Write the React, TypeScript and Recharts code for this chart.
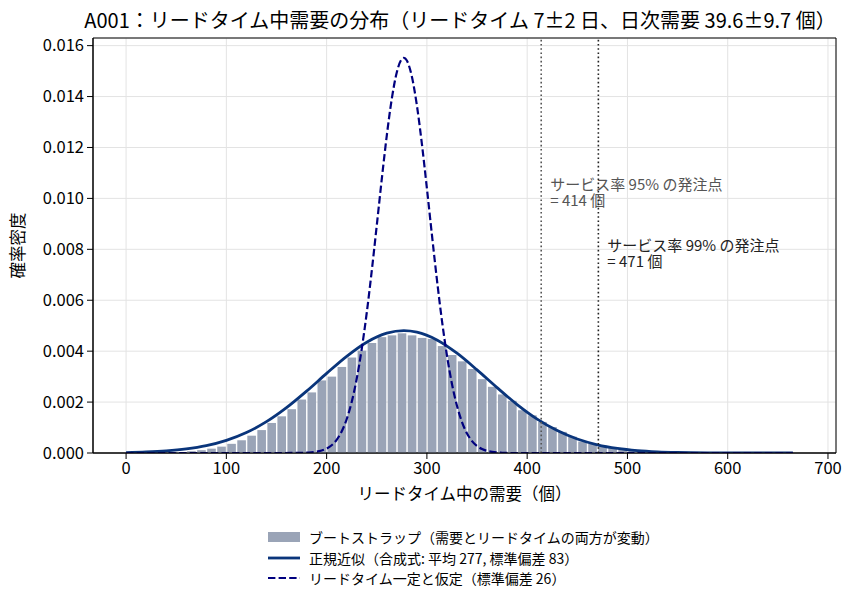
import React from "react";
import {
  ComposedChart,
  Bar,
  Line,
  XAxis,
  YAxis,
  CartesianGrid,
  ReferenceLine,
  ReferenceArea,
} from "recharts";

// bootstrap histogram: bin centres (bin width 10) and density
const histX = [
  45, 55, 65, 75, 85, 95, 105, 115, 125, 135, 145, 155, 165, 175, 185, 195,
  205, 215, 225, 235, 245, 255, 265, 275, 285, 295, 305, 315, 325, 335, 345,
  355, 365, 375, 385, 395, 405, 415, 425, 435, 445, 455, 465, 475, 485, 495,
  505, 515, 525, 535, 545, 555, 565, 575, 585, 595,
];
const histY = [
  0.00002, 0.00004, 0.00007, 0.00011, 0.00017, 0.00025, 0.00036, 0.0005,
  0.00068, 0.0009, 0.00118, 0.00144, 0.00172, 0.0021, 0.00238, 0.00285,
  0.003, 0.00338, 0.00375, 0.00402, 0.00432, 0.00455, 0.00462, 0.0047,
  0.00462, 0.00452, 0.00448, 0.0042, 0.00385, 0.0036, 0.0033, 0.0029,
  0.0026, 0.0023, 0.00205, 0.00168, 0.00148, 0.00122, 0.00102, 0.00083,
  0.00064, 0.00045, 0.00036, 0.00028, 0.00021, 0.00015, 0.00011, 0.00008,
  0.00006, 0.00004, 0.00003, 0.00002, 0.000015, 0.00001, 0.000007, 0.000005,
];

// normal approximation (mean 277, sd 83)
const normalX = [
  0, 20, 40, 60, 80, 100, 120, 140, 160, 180, 200, 220, 240, 260, 277, 290,
  310, 330, 350, 370, 390, 410, 430, 450, 470, 490, 510, 530, 550, 580, 620,
  665,
];
const normalY = [
  0.0000184, 0.0000399, 0.0000815, 0.000158, 0.000287, 0.000495, 0.000803,
  0.00123, 0.00178, 0.002428, 0.003126, 0.003797, 0.004352, 0.004707,
  0.004807, 0.004748, 0.004442, 0.00392, 0.003265, 0.002566, 0.001903,
  0.001331, 0.000879, 0.000548, 0.000322, 0.000179, 0.0000935, 0.0000462,
  0.0000215, 0.0000061, 0.0000008, 0.0000001,
];

// fixed lead time (sd 26)
const fixedX = [
  0, 100, 150, 175, 185, 195, 200, 205, 210, 215, 220, 225, 230, 235, 240,
  245, 250, 255, 260, 265, 270, 275, 277, 280, 285, 290, 295, 300, 305, 310,
  315, 320, 325, 330, 335, 340, 345, 350, 355, 365, 375, 385, 450, 550, 665,
];
const fixedY = [
  0, 0, 0, 0.0000059, 0.0000256, 0.0000956, 0.000174, 0.000306, 0.000519,
  0.000846, 0.001326, 0.002004, 0.002916, 0.004084, 0.005508, 0.00715,
  0.008936, 0.010759, 0.01247, 0.013917, 0.014955, 0.015473, 0.01552,
  0.015414, 0.014786, 0.013656, 0.012144, 0.010398, 0.008573, 0.006806,
  0.005202, 0.003829, 0.002713, 0.001852, 0.001217, 0.00077, 0.000469,
  0.000275, 0.000155, 0.0000442, 0.0000108, 0, 0, 0, 0,
];

const xTicks = [0, 100, 200, 300, 400, 500, 600, 700];
const yTicks = [0, 0.002, 0.004, 0.006, 0.008, 0.01, 0.012, 0.014, 0.016];
const reorder95 = 414;
const reorder99 = 471;

const FONT = "'Noto Sans CJK JP', 'Noto Sans', sans-serif";
const BAR_FILL = "#9aa4b7";
const NORMAL_COLOR = "#0a357b";
const FIXED_COLOR = "#00007f";

function buildRows() {
  const map = new Map<number, any>();
  const put = (x: number, key: string, v: number) => {
    if (!map.has(x)) map.set(x, { x });
    map.get(x)[key] = v;
  };
  histX.forEach((x, i) => put(x, "hist", histY[i]));
  normalX.forEach((x, i) => put(x, "normal", normalY[i]));
  fixedX.forEach((x, i) => put(x, "fixed", fixedY[i]));
  return Array.from(map.values()).sort((a, b) => a.x - b.x);
}

const rows = buildRows();

// bin of width 10 drawn around the position the library gives
const HistBar = (props: any) => {
  const { x, y, width, height } = props;
  if (!height || height <= 0 || isNaN(x)) return null;
  const cx = x + width / 2;
  return <rect x={cx - 4.3} y={y} width={8.6} height={height} fill={BAR_FILL} />;
};

const noteLabel = (lines: string[], dy: number, color: string) => (props: any) => {
  const { viewBox } = props;
  return (
    <text x={viewBox.x + 9} y={viewBox.y + dy} fontSize={15} fill={color} fontFamily={FONT}>
      {lines.map((t, i) => (
        <tspan key={i} x={viewBox.x + 9} dy={i === 0 ? 0 : 15.5}>
          {t}
        </tspan>
      ))}
    </text>
  );
};

export default function App() {
  return (
    <div style={{ position: "absolute", left: 0, top: 0, width: 860, height: 605, background: "#fff", fontFamily: FONT }}>
      <div style={{ position: "absolute", top: 5, left: 80, width: 760, textAlign: "center", fontSize: 20, color: "#000", whiteSpace: "nowrap" }}>
        A001：リードタイム中需要の分布（リードタイム 7±2 日、日次需要 39.6±9.7 個）
      </div>
      <ComposedChart
        width={860}
        height={605}
        data={rows}
        margin={{ top: 38, right: 24, bottom: 122, left: 33 }}
      >
        <CartesianGrid stroke="#e3e3e3" />
        <XAxis
          dataKey="x"
          type="number"
          domain={[-33, 708]}
          ticks={xTicks}
          allowDataOverflow
          height={30}
          tick={{ fontSize: 16.5, fill: "#000", fontFamily: FONT }}
          tickLine={{ stroke: "#000" }}
          axisLine={{ stroke: "#000" }}
          tickSize={6}
          tickMargin={3}
          label={{ value: "リードタイム中の需要（個）", position: "insideBottom", offset: -17, fontSize: 16.5, fill: "#000", fontFamily: FONT }}
        />
        <YAxis
          type="number"
          domain={[0, 0.0163]}
          ticks={yTicks}
          allowDataOverflow
          width={60}
          tickFormatter={(v: number) => v.toFixed(3)}
          tick={{ fontSize: 16.5, fill: "#000", fontFamily: FONT }}
          tickLine={{ stroke: "#000" }}
          axisLine={{ stroke: "#000" }}
          tickSize={6}
          tickMargin={3}
          label={{ value: "確率密度", angle: -90, position: "insideLeft", offset: -15, fontSize: 16.5, fill: "#000", fontFamily: FONT, style: { textAnchor: "middle" } }}
        />
        <Bar dataKey="hist" fill={BAR_FILL} shape={HistBar} isAnimationActive={false} />
        <Line
          dataKey="normal"
          type="monotone"
          stroke={NORMAL_COLOR}
          strokeWidth={2.8}
          dot={false}
          connectNulls
          isAnimationActive={false}
        />
        <Line
          dataKey="fixed"
          type="monotone"
          stroke={FIXED_COLOR}
          strokeWidth={2.2}
          strokeDasharray="7.4 3.2"
          dot={false}
          connectNulls
          isAnimationActive={false}
        />
        <ReferenceLine
          x={reorder95}
          stroke="#555"
          strokeWidth={1.6}
          strokeDasharray="1.6 2.6"
          label={noteLabel(["サービス率 95% の発注点", "= 414 個"], 152, "#555")}
        />
        <ReferenceLine
          x={reorder99}
          stroke="#222"
          strokeWidth={1.6}
          strokeDasharray="1.6 2.6"
          label={noteLabel(["サービス率 99% の発注点", "= 471 個"], 213, "#222")}
        />
        <ReferenceArea x1={-33} x2={708} y1={0} y2={0.0163} fill="none" stroke="#000" strokeWidth={1} />
      </ComposedChart>
      <div style={{ position: "absolute", top: 527, left: 268, fontSize: 14, color: "#000", lineHeight: "20.5px", whiteSpace: "nowrap" }}>
        <div style={{ display: "flex", alignItems: "center" }}>
          <span style={{ display: "inline-block", width: 32, height: 10, background: BAR_FILL, marginRight: 9 }} />
          ブートストラップ（需要とリードタイムの両方が変動）
        </div>
        <div style={{ display: "flex", alignItems: "center" }}>
          <svg width={32} height={4} style={{ marginRight: 9 }}>
            <line x1={0} y1={2} x2={32} y2={2} stroke={NORMAL_COLOR} strokeWidth={2.8} />
          </svg>
          正規近似（合成式: 平均 277, 標準偏差 83）
        </div>
        <div style={{ display: "flex", alignItems: "center" }}>
          <svg width={32} height={4} style={{ marginRight: 9 }}>
            <line x1={0} y1={2} x2={32} y2={2} stroke={FIXED_COLOR} strokeWidth={2.2} strokeDasharray="7.4 3.2" />
          </svg>
          リードタイム一定と仮定（標準偏差 26）
        </div>
      </div>
    </div>
  );
}
